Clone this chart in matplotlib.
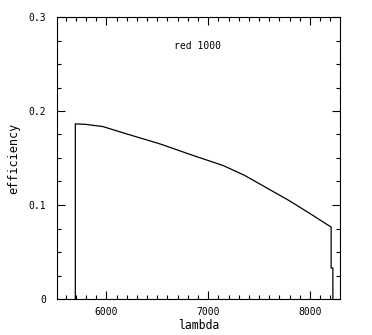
import matplotlib
matplotlib.use('Agg')
import matplotlib.pyplot as plt
from matplotlib.ticker import MultipleLocator, FixedLocator

# grating efficiency curve
lam = [5695, 5695, 5796, 5967, 6197, 6524, 6852, 7147, 7360, 7606, 7803, 8000, 8208, 8208, 8225, 8225]
eff = [0.0, 0.1863, 0.1858, 0.1834, 0.1757, 0.1651, 0.1527, 0.1420, 0.1314, 0.1163, 0.1042, 0.0909, 0.0765, 0.033, 0.033, 0.0]

yticks = [0.0, 0.1, 0.2, 0.3]
ytick_labels = ['0', '0.1', '0.2', '0.3']
xticks = [6000, 7000, 8000]
label = 'red 1000'

plt.rcParams['font.family'] = 'DejaVu Sans Mono'

fig = plt.figure(figsize=(3.72, 3.35), dpi=100)
ax = fig.add_axes([57 / 372, 36 / 335, 283 / 372, 282 / 335])

ax.plot(lam, eff, color='black', lw=0.9)

ax.set_xlim(5515, 8295)
ax.set_ylim(0, 0.3)
ax.xaxis.set_major_locator(FixedLocator(xticks))
ax.xaxis.set_minor_locator(MultipleLocator(100))
ax.yaxis.set_major_locator(FixedLocator(yticks))
ax.set_yticklabels(ytick_labels)
ax.yaxis.set_minor_locator(MultipleLocator(0.025))

ax.tick_params(which='both', direction='in', top=True, right=True, width=0.8, labelsize=7)
ax.tick_params(which='major', length=5.5)
ax.tick_params(which='minor', length=3)
ax.tick_params(axis='y', pad=8)
ax.tick_params(axis='x', pad=6)
for s in ax.spines.values():
    s.set_linewidth(0.8)

ax.text(6893, 0.269, label, ha='center', va='center', fontsize=7)
ax.set_xlabel('lambda', fontsize=8.3, labelpad=1)
ax.set_ylabel('efficiency', fontsize=8.5, labelpad=5.5)

fig.savefig('out.png', dpi=100)
